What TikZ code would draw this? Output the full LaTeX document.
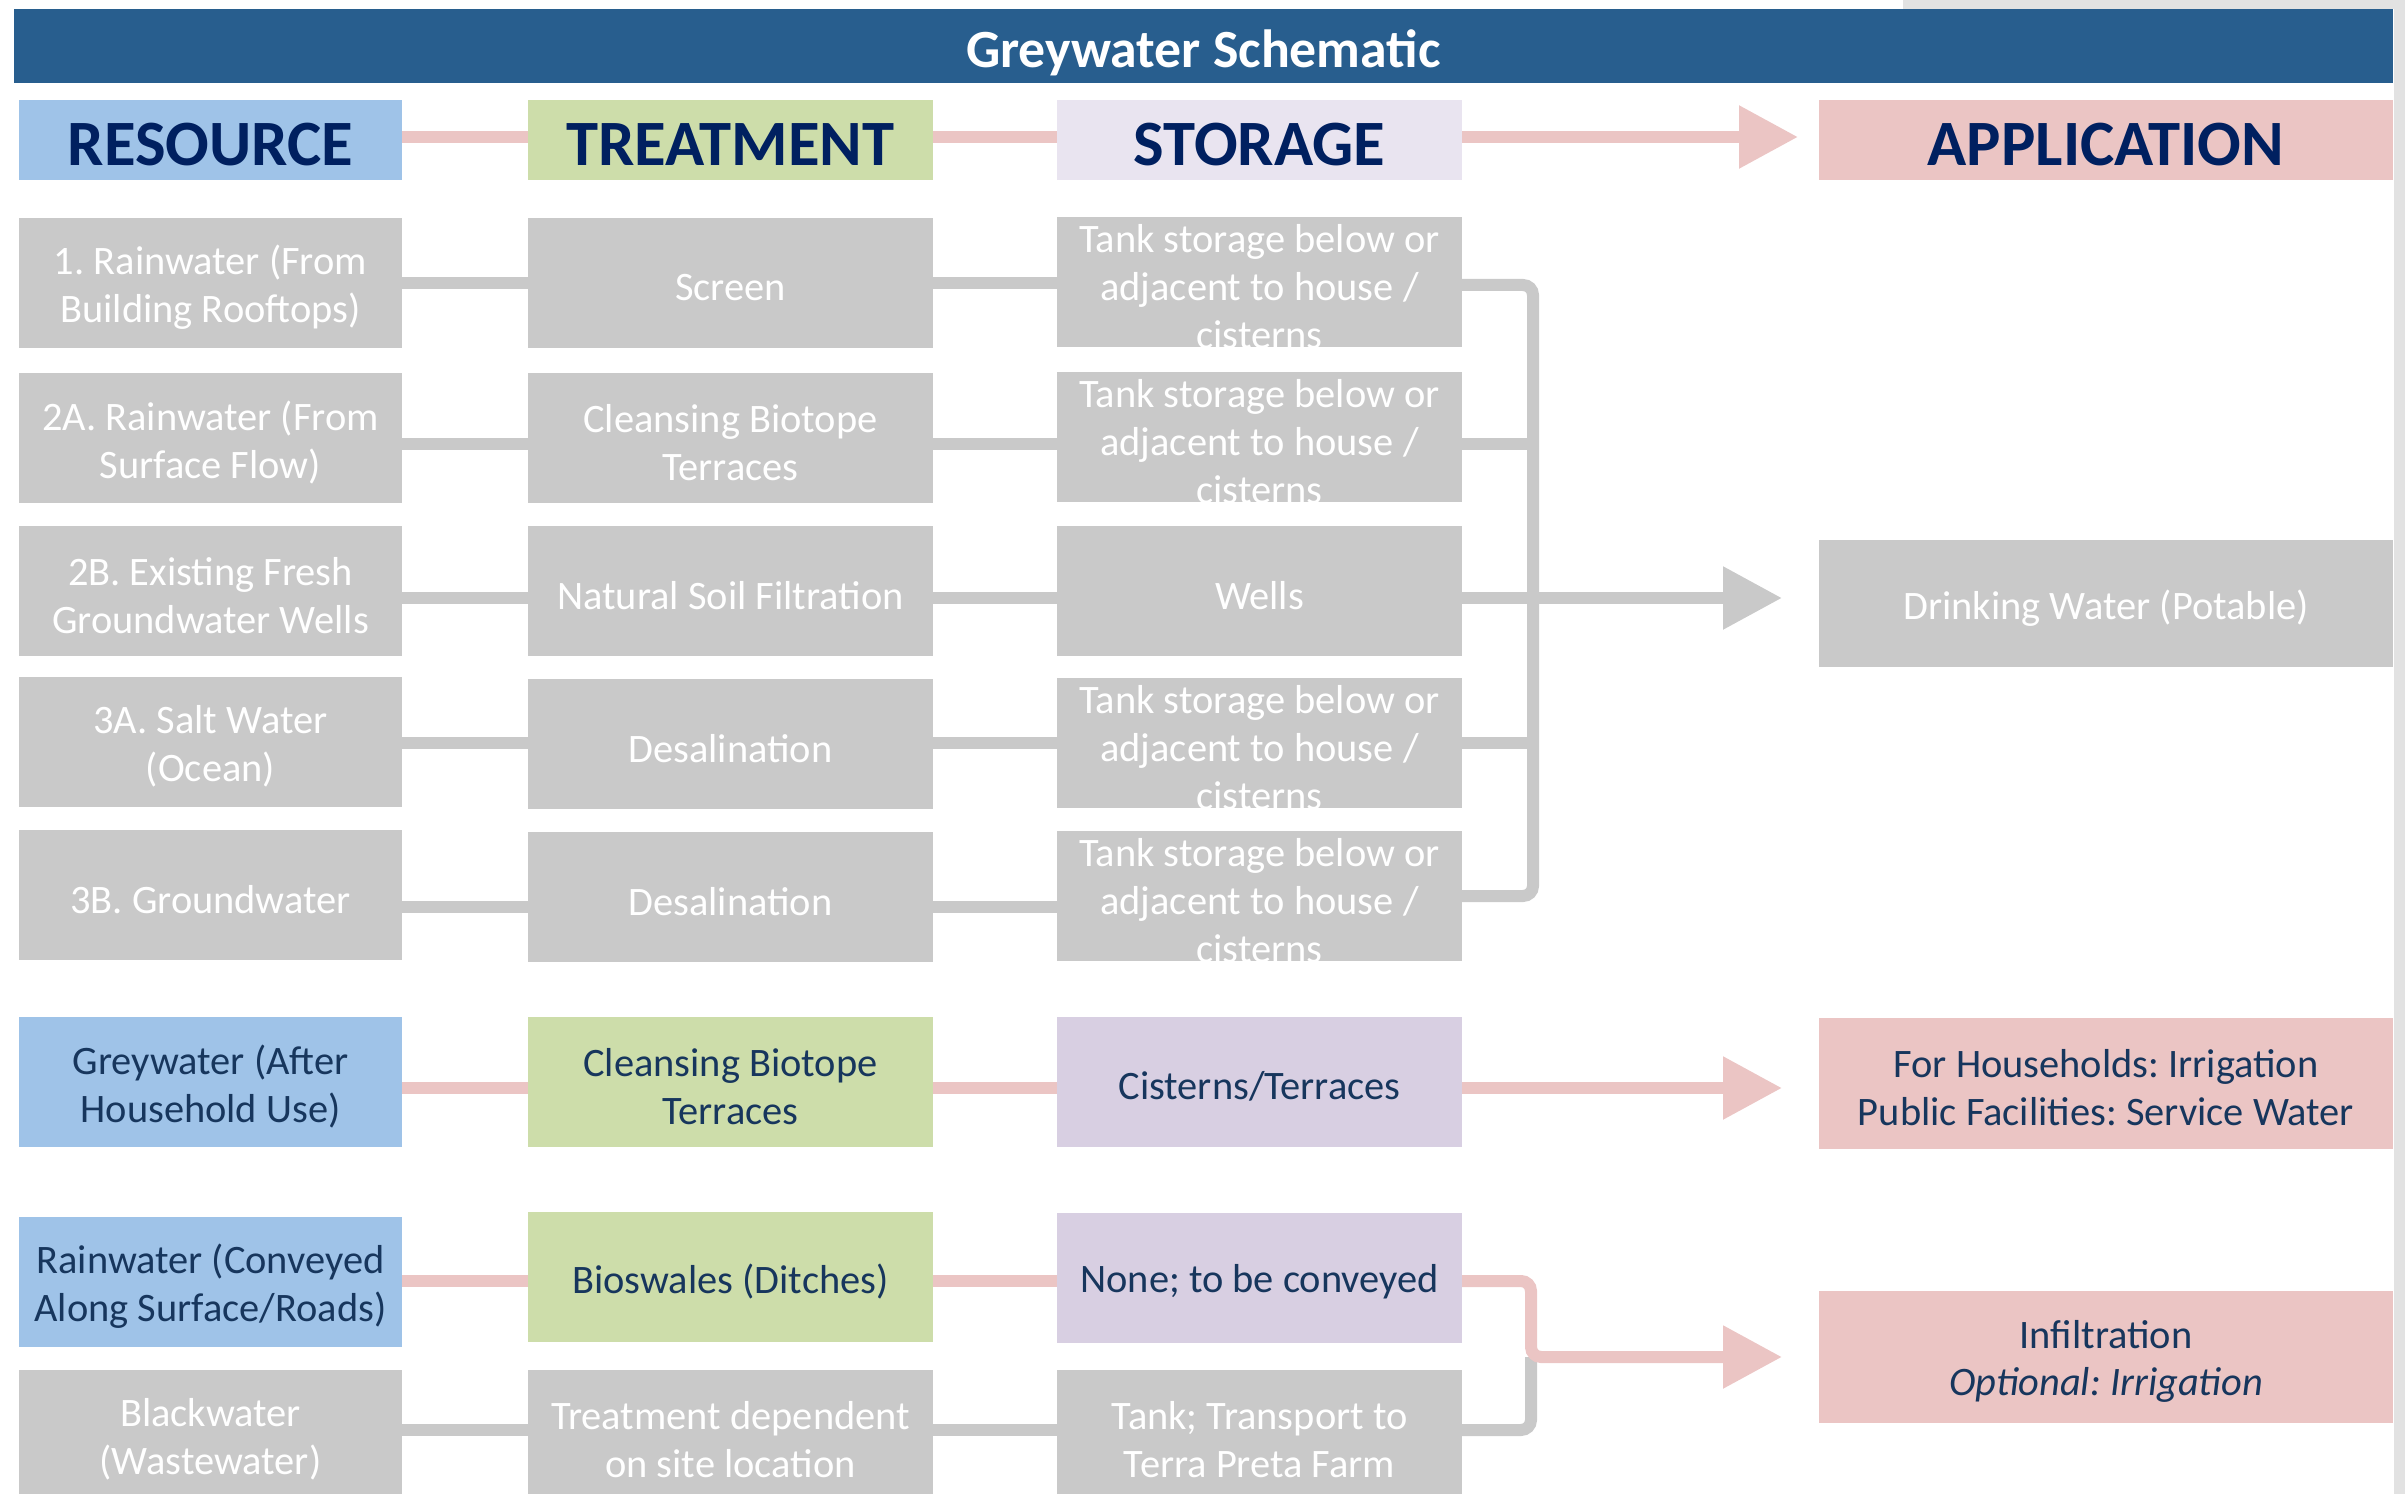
\documentclass[tikz,border=0pt]{standalone}
\usepackage{fontspec}
\setmainfont{Carlito}
\usetikzlibrary{arrows.meta}
\frenchspacing

\definecolor{banner}{HTML}{285E8E}
\definecolor{navy}{HTML}{002060}
\definecolor{textblue}{HTML}{17365D}
\definecolor{resblue}{HTML}{9FC3E8}
\definecolor{treatgreen}{HTML}{CDDDAA}
\definecolor{storelav}{HTML}{E9E4F0}
\definecolor{storepurple}{HTML}{D8CFE2}
\definecolor{apppink}{HTML}{EBC5C4}
\definecolor{boxgrey}{HTML}{C9C9C9}
\definecolor{marble}{HTML}{E2E2E2}

\newcommand\ttlfont{\fontsize{15.3pt}{18pt}\selectfont\bfseries}
\newcommand\hdrfont{\fontsize{18.4pt}{22pt}\selectfont\bfseries}
\newcommand\bdyfont{\fontsize{11.5pt}{13.6pt}\selectfont}

% a filled box (#1 style, #2 name, #3 centre) with its text (#4 colour, #5 text)
% set a little below the box centre
\newcommand\cell[5]{%
  \node[#1] (#2) at (#3) {};
  \node[celltext, text=#4] (#2-txt) at ([yshift=-0.45mm]#2.center) {#5};}

\begin{document}
\frenchspacing
\begin{tikzpicture}[x=0.1mm, y=-0.1mm,
  box/.style={rectangle, inner sep=0pt, outer sep=0pt, align=center},
  celltext/.style={inner sep=0pt, outer sep=0pt, align=center, font=\bdyfont},
  greybox/.style={box, fill=boxgrey},
  bluebox/.style={box, fill=resblue},
  greenbox/.style={box, fill=treatgreen},
  purplebox/.style={box, fill=storepurple},
  pinkbox/.style={box, fill=apppink},
  colR/.style={minimum width=38.3mm},
  colT/.style={minimum width=40.5mm},
  colS/.style={minimum width=40.5mm},
  colA/.style={minimum width=57.4mm},
  rowbox/.style={minimum height=13mm},
  headbox/.style={box, minimum height=8mm, font=\hdrfont, text=navy, text height=5.2mm, text depth=0pt},
  gline/.style={draw=boxgrey, line width=1.2mm},
  pline/.style={draw=apppink, line width=1.2mm},
  bigtip/.style={-{Triangle[length=5.9mm, width=6mm]}}
]
\useasboundingbox (0,0) rectangle (2405,1494);
\clip (0,0) rectangle (2405,1494);

% textured page margin
\fill[marble] (2394,0) rectangle (2405,1494);
\fill[marble] (1903,0) rectangle (2405,9);

% title banner
\node[box, fill=banner, minimum width=237.9mm, minimum height=7.4mm,
      font=\ttlfont, text=white, text height=5.6mm, text depth=1.2mm] (title) at (1203.5,46) {Greywater Schematic};

% column headers
\node[headbox, colR, fill=resblue]    (R0) at (210.5,140)  {RESOURCE};
\node[headbox, colT, fill=treatgreen] (T0) at (730.5,140)  {TREATMENT};
\node[headbox, colS, fill=storelav]   (S0) at (1259.5,140) {STORAGE};
\node[headbox, colA, fill=apppink]    (A0) at (2106,140)   {APPLICATION};

% potable chain
\cell{greybox, colR, rowbox}{R1}{210.5,283}{white}{1. Rainwater (From\\Building Rooftops)}
\cell{greybox, colT, rowbox}{T1}{730.5,283}{white}{Screen}
\cell{greybox, colS, rowbox}{S1}{1259.5,282}{white}{Tank storage below or\\adjacent to house /\\cisterns}

\cell{greybox, colR, rowbox}{R2}{210.5,438}{white}{2A. Rainwater (From\\Surface Flow)}
\cell{greybox, colT, rowbox}{T2}{730.5,438}{white}{Cleansing Biotope\\Terraces}
\cell{greybox, colS, rowbox}{S2}{1259.5,437}{white}{Tank storage below or\\adjacent to house /\\cisterns}

\cell{greybox, colR, rowbox}{R3}{210.5,591}{white}{2B. Existing Fresh\\Groundwater Wells}
\cell{greybox, colT, rowbox}{T3}{730.5,591}{white}{Natural Soil Filtration}
\cell{greybox, colS, rowbox}{S3}{1259.5,591}{white}{Wells}

\cell{greybox, colR, rowbox}{R4}{210.5,742}{white}{3A. Salt Water\\(Ocean)}
\cell{greybox, colT, rowbox}{T4}{730.5,744}{white}{Desalination}
\cell{greybox, colS, rowbox}{S4}{1259.5,743}{white}{Tank storage below or\\adjacent to house /\\cisterns}

\cell{greybox, colR, rowbox}{R5}{210.5,895}{white}{3B. Groundwater}
\cell{greybox, colT, rowbox}{T5}{730.5,897}{white}{Desalination}
\cell{greybox, colS, rowbox}{S5}{1259.5,896}{white}{Tank storage below or\\adjacent to house /\\cisterns}

\cell{greybox, colA, minimum height=12.7mm}{A3}{2106,603.5}{white}{Drinking Water (Potable)}

% greywater chain
\cell{bluebox, colR, rowbox}{R6}{210.5,1082}{textblue}{Greywater (After\\Household Use)}
\cell{greenbox, colT, rowbox}{T6}{730.5,1082}{textblue}{Cleansing Biotope\\Terraces}
\cell{purplebox, colS, rowbox}{S6}{1259.5,1082}{textblue}{Cisterns/Terraces}
\cell{pinkbox, colA, minimum height=13.1mm}{A6}{2106,1083.5}{textblue}{For Households: Irrigation\\Public Facilities: Service Water}

% surface runoff and blackwater chains
\cell{bluebox, colR, rowbox}{R7}{210.5,1282}{textblue}{Rainwater (Conveyed\\Along Surface/Roads)}
\cell{greenbox, colT, rowbox}{T7}{730.5,1277}{textblue}{Bioswales (Ditches)}
\cell{purplebox, colS, rowbox}{S7}{1259.5,1277.5}{textblue}{None; to be conveyed}
\cell{pinkbox, colA, minimum height=13.2mm}{A7}{2106,1357}{textblue}{Infiltration\\\textit{Optional: Irrigation}}

\cell{greybox, colR, rowbox}{R8}{210.5,1435}{white}{Blackwater\\(Wastewater)}
\cell{greybox, colT, rowbox}{T8}{730.5,1435}{white}{Treatment dependent\\on site location}
\cell{greybox, colS, rowbox}{S8}{1259.5,1435}{white}{Tank; Transport to\\Terra Preta Farm}

% connector heights and collector positions
\coordinate (c0) at (0,137);
\coordinate (c1) at (0,283.5);
\coordinate (c1s) at (0,285);
\coordinate (c2) at (0,444);
\coordinate (c3) at (0,598);
\coordinate (c4) at (0,743);
\coordinate (c5) at (0,907);
\coordinate (c5s) at (0,896);
\coordinate (c6) at (0,1088);
\coordinate (c7) at (0,1281);
\coordinate (cj) at (0,1357);
\coordinate (c8) at (0,1430);
\coordinate (busA) at (1533,0);
\coordinate (busB) at (1531,0);
\coordinate (tipH) at (1798,0);
\coordinate (tipR) at (1782,0);

% header flow
\draw[pline] (R0.east |- c0) -- (T0.west |- c0);
\draw[pline] (T0.east |- c0) -- (S0.west |- c0);
\draw[pline, bigtip] (S0.east |- c0) -- (tipH |- c0);

% potable connectors
\draw[gline] (R1.east |- c1) -- (T1.west |- c1);
\draw[gline] (T1.east |- c1) -- (S1.west |- c1);
\draw[gline] (R2.east |- c2) -- (T2.west |- c2);
\draw[gline] (T2.east |- c2) -- (S2.west |- c2);
\draw[gline] (R3.east |- c3) -- (T3.west |- c3);
\draw[gline] (T3.east |- c3) -- (S3.west |- c3);
\draw[gline] (R4.east |- c4) -- (T4.west |- c4);
\draw[gline] (T4.east |- c4) -- (S4.west |- c4);
\draw[gline] (R5.east |- c5) -- (T5.west |- c5);
\draw[gline] (T5.east |- c5) -- (S5.west |- c5);

% collector bus to drinking water
\draw[gline, rounded corners=1mm] (S1.east |- c1s) -- (busA |- c1s) -- (busA |- c5s) -- (S5.east |- c5s);
\draw[gline] (S2.east |- c2) -- (busA |- c2);
\draw[gline] (S3.east |- c3) -- (busA |- c3);
\draw[gline] (S4.east |- c4) -- (busA |- c4);
\draw[gline, bigtip] (busA |- c3) -- (tipR |- c3);

% greywater connectors
\draw[pline] (R6.east |- c6) -- (T6.west |- c6);
\draw[pline] (T6.east |- c6) -- (S6.west |- c6);
\draw[pline, bigtip] (S6.east |- c6) -- (tipR |- c6);

% blackwater connectors (beneath the runoff line)
\draw[gline] (R8.east |- c8) -- (T8.west |- c8);
\draw[gline] (T8.east |- c8) -- (S8.west |- c8);
\draw[gline, rounded corners=1mm] (S8.east |- c8) -- (busB |- c8) -- (busB |- cj);

% runoff connectors
\draw[pline] (R7.east |- c7) -- (T7.west |- c7);
\draw[pline] (T7.east |- c7) -- (S7.west |- c7);
\draw[pline, rounded corners=1mm, bigtip] (S7.east |- c7) -- (busB |- c7) -- (busB |- cj) -- (tipR |- cj);
\end{tikzpicture}
\end{document}
